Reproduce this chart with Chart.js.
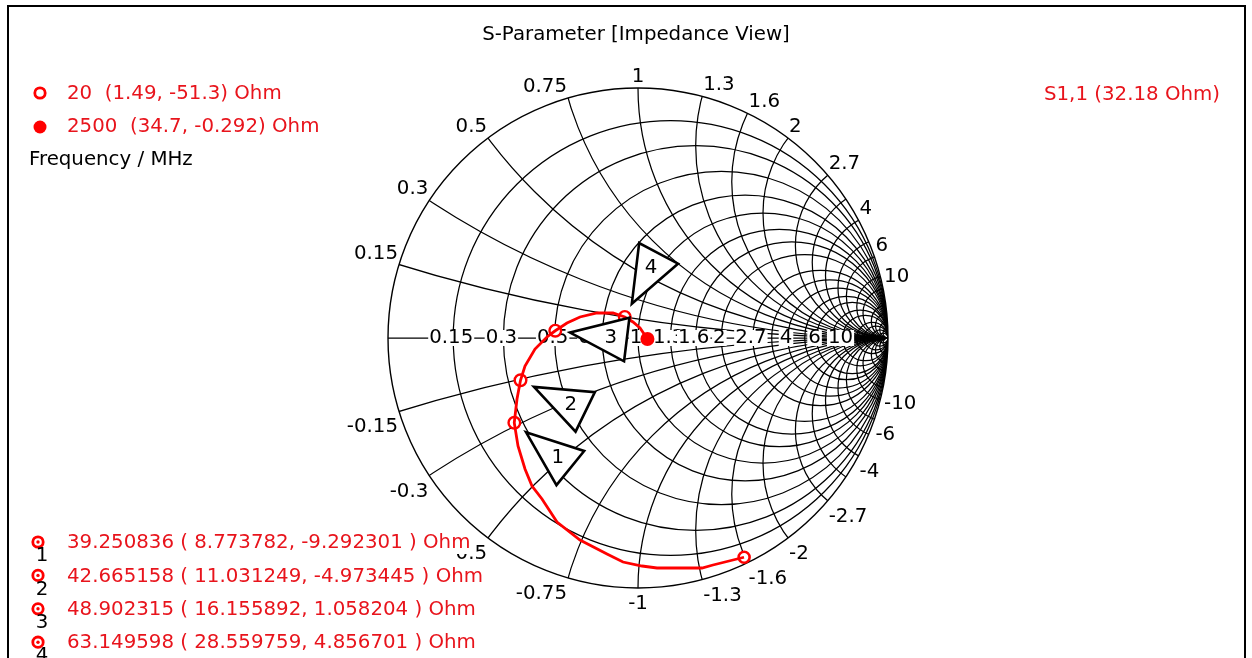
<!DOCTYPE html>
<html>
<head>
<meta charset="utf-8">
<script src="https://cdn.jsdelivr.net/npm/chart.js@4/dist/chart.umd.min.js"></script>
<style>
  html, body { margin: 0; padding: 0; background: #fff; }
  canvas { display: block; }
</style>
</head>
<body>
<canvas id="smith" width="1252" height="658"></canvas>
<script>
// reference impedance of the port (Ohm)
const REF_IMPEDANCE = 32.18;

const S11_RE = [0.424, 0.300, 0.256, 0.076, 0.016, -0.060, -0.124, -0.232, -0.324, -0.384,
  -0.424, -0.452, -0.480, -0.495, -0.484, -0.470, -0.452, -0.412, -0.360, -0.331,
  -0.284, -0.232, -0.164, -0.100, -0.053, -0.020, 0.008, 0.038];
const S11_IM = [-0.877, -0.908, -0.920, -0.920, -0.912, -0.896, -0.864, -0.808, -0.736, -0.644,
  -0.592, -0.524, -0.432, -0.339, -0.244, -0.169, -0.112, -0.044, 0.008, 0.029,
  0.060, 0.084, 0.100, 0.100, 0.084, 0.064, 0.040, -0.004];

// start / end of the sweep
const END_FREQ = [20, 2500];
const END_R = [1.49, 34.7];
const END_X = [-51.3, -0.292];
const END_TEXT = ["1.49", "34.7"];
const END_XTEXT = ["-51.3", "-0.292"];

// numbered markers
const MARKER_FREQ = [39.250836, 42.665158, 48.902315, 63.149598];
const MARKER_R = [8.773782, 11.031249, 16.155892, 28.559759];
const MARKER_X = [-9.292301, -4.973445, 1.058204, 4.856701];

// grid values (labelled ones and extra unlabelled lines)
const GRID_LABELS = [0.15, 0.3, 0.5, 0.75, 1, 1.3, 1.6, 2, 2.7, 4, 6, 10];
const GRID_EXTRA = [3.3, 5, 8, 15, 20, 30, 50];

const FONT = '19.8px "DejaVu Sans"';
const RED = "#ff0000";
const TEXT_RED = "#e8141c";
// direction of the triangle flags for markers 1..4 (deg, screen)
const FLAG_ANGLE = [39, 26, 7, -62];

/**
 * impedance in Ohm -> reflection coefficient {x, y}
 */
function toGamma(r, x) {
  const zr = r / REF_IMPEDANCE, zi = x / REF_IMPEDANCE;
  const nr = zr - 1, ni = zi;
  const dr = zr + 1, di = zi;
  const d = dr * dr + di * di;
  return { x: (nr * dr + ni * di) / d, y: (ni * dr - nr * di) / d };
}

function fmt(v) { return v.toFixed(6); }

const tracePoints = S11_RE.map((re, i) => ({ x: re, y: S11_IM[i] }));
const startPoint = [toGamma(END_R[0], END_X[0])];
const endPoint = [toGamma(END_R[1], END_X[1])];
const markerPoints = MARKER_R.map((r, i) => toGamma(r, MARKER_X[i]));

// Smith grid, drawn below the data
const smithGrid = {
  id: "smithGrid",
  beforeDatasetsDraw(chart) {
    const { ctx, scales: { x, y } } = chart;
    const cx = x.getPixelForValue(0), cy = y.getPixelForValue(0);
    const unit = x.getPixelForValue(1) - cx;
    const all = GRID_LABELS.concat(GRID_EXTRA);

    ctx.save();
    ctx.beginPath();
    ctx.arc(cx, cy, unit, 0, Math.PI * 2);
    ctx.clip();
    ctx.strokeStyle = "#000";
    ctx.lineWidth = 1.25;
    for (const r of all) {
      ctx.beginPath();
      ctx.arc(x.getPixelForValue(r / (r + 1)), cy, unit / (r + 1), 0, Math.PI * 2);
      ctx.stroke();
    }
    for (const xv of all) {
      for (const s of [1, -1]) {
        ctx.beginPath();
        ctx.arc(x.getPixelForValue(1), y.getPixelForValue(s / xv), unit / xv, 0, Math.PI * 2);
        ctx.stroke();
      }
    }
    ctx.beginPath();
    ctx.moveTo(cx - unit, cy);
    ctx.lineTo(cx + unit, cy);
    ctx.stroke();
    ctx.restore();

    ctx.save();
    ctx.strokeStyle = "#000";
    ctx.lineWidth = 1.4;
    ctx.beginPath();
    ctx.arc(cx, cy, unit, 0, Math.PI * 2);
    ctx.stroke();

    ctx.font = FONT;
    ctx.fillStyle = "#000";
    // reactance labels round the rim
    for (const xv of GRID_LABELS) {
      for (const s of [1, -1]) {
        const k = s * xv;
        const gr = (k * k - 1) / (k * k + 1), gi = (2 * k) / (k * k + 1);
        const px = x.getPixelForValue(gr), py = y.getPixelForValue(gi);
        ctx.textAlign = gr < -0.05 ? "right" : gr > 0.05 ? "left" : "center";
        ctx.textBaseline = "alphabetic";
        const tx = gr < -0.05 ? px - 1 : gr > 0.05 ? px + 1 : px;
        ctx.fillText(String(k), tx, s > 0 ? py - 6 : py + 21);
      }
    }
    // resistance labels on the real axis
    ctx.textAlign = "center";
    ctx.textBaseline = "middle";
    for (const r of GRID_LABELS) {
      const px = x.getPixelForValue((r - 1) / (r + 1)) - 2;
      const w = ctx.measureText(String(r)).width;
      ctx.fillStyle = "#fff";
      ctx.fillRect(px - w / 2 - 1, cy - 8, w + 2, 16);
      ctx.fillStyle = "#000";
      ctx.fillText(String(r), px, cy);
    }
    ctx.restore();
  }
};

// numbered triangle flags next to the markers
const markerFlags = {
  id: "markerFlags",
  afterDatasetsDraw(chart) {
    const { ctx, scales: { x, y } } = chart;
    ctx.save();
    ctx.lineWidth = 2.6;
    ctx.strokeStyle = "#000";
    ctx.lineJoin = "miter";
    ctx.font = FONT;
    ctx.textAlign = "center";
    ctx.textBaseline = "middle";
    markerPoints.forEach((p, i) => {
      const a = FLAG_ANGLE[i] * Math.PI / 180;
      const dx = Math.cos(a), dy = Math.sin(a);
      const mx = x.getPixelForValue(p.x), my = y.getPixelForValue(p.y);
      const tx = mx + dx * 15, ty = my + dy * 15;
      const bx = tx + dx * 57, by = ty + dy * 57;
      ctx.beginPath();
      ctx.moveTo(tx, ty);
      ctx.lineTo(bx - dy * 22, by + dx * 22);
      ctx.lineTo(bx + dy * 22, by - dx * 22);
      ctx.closePath();
      ctx.fillStyle = "#fff";
      ctx.fill();
      ctx.stroke();
      ctx.fillStyle = "#000";
      ctx.fillText(String(i + 1), tx + dx * 41, ty + dy * 41);
    });
    ctx.restore();
  }
};

function ring(ctx, cx, cy, dot) {
  ctx.beginPath();
  ctx.arc(cx, cy, 5.2, 0, Math.PI * 2);
  ctx.fillStyle = "#fff";
  ctx.fill();
  ctx.lineWidth = 2.8;
  ctx.strokeStyle = RED;
  ctx.stroke();
  if (dot) {
    ctx.beginPath();
    ctx.arc(cx, cy, 1.7, 0, Math.PI * 2);
    ctx.fillStyle = RED;
    ctx.fill();
  }
}

// titles, legends, frame
const pageText = {
  id: "pageText",
  afterDraw(chart) {
    const { ctx } = chart;
    ctx.save();
    ctx.strokeStyle = "#000";
    ctx.lineWidth = 2;
    ctx.strokeRect(8, 6, 1237, 700);

    ctx.font = FONT;
    ctx.textBaseline = "middle";
    ctx.fillStyle = "#000";
    ctx.textAlign = "center";
    ctx.fillText("S-Parameter [Impedance View]", 636, 35);

    ctx.textAlign = "left";
    ring(ctx, 40, 93, false);
    ctx.beginPath();
    ctx.arc(40, 127, 6.5, 0, Math.PI * 2);
    ctx.fillStyle = RED;
    ctx.fill();
    ctx.fillStyle = TEXT_RED;
    for (let i = 0; i < 2; i++) {
      ctx.fillText(`${END_FREQ[i]}  (${END_TEXT[i]}, ${END_XTEXT[i]}) Ohm`, 67, 94 + i * 33);
    }
    ctx.fillStyle = "#000";
    ctx.fillText("Frequency / MHz", 29, 160);

    ctx.textAlign = "right";
    ctx.fillStyle = TEXT_RED;
    ctx.fillText(`S1,1 (${REF_IMPEDANCE} Ohm)`, 1220, 95);

    ctx.textAlign = "left";
    MARKER_FREQ.forEach((f, i) => {
      const yy = 543 + i * 33.4;
      const t = `${fmt(f)} ( ${fmt(MARKER_R[i])}, ${fmt(MARKER_X[i])} ) Ohm`;
      const w = ctx.measureText(t).width;
      ctx.fillStyle = "#fff";
      ctx.fillRect(66, yy - 10, w + 2, 21);
      ctx.fillStyle = TEXT_RED;
      ctx.fillText(t, 67, yy);
    });
    MARKER_FREQ.forEach((f, i) => {
      const yy = 542 + i * 33.4;
      ring(ctx, 38, yy, true);
      ctx.fillStyle = "#000";
      ctx.textAlign = "center";
      ctx.fillText(String(i + 1), 42, yy + 14);
    });
    ctx.restore();
  }
};

new Chart(document.getElementById("smith"), {
  type: "scatter",
  data: {
    datasets: [
      {
        data: tracePoints,
        showLine: true,
        borderColor: RED,
        borderWidth: 2.8,
        pointRadius: 0,
        tension: 0,
        clip: false
      },
      {
        data: startPoint,
        pointRadius: 5.5,
        pointBorderWidth: 2.6,
        pointBorderColor: RED,
        pointBackgroundColor: "#fff",
        clip: false
      },
      {
        data: endPoint,
        pointRadius: 7,
        pointBorderWidth: 0,
        pointBackgroundColor: RED,
        clip: false
      },
      {
        data: markerPoints,
        pointRadius: 5.8,
        pointBorderWidth: 2.4,
        pointBorderColor: RED,
        pointBackgroundColor: "#fff",
        clip: false
      },
      {
        data: markerPoints,
        pointRadius: 1.7,
        pointBorderWidth: 0,
        pointBackgroundColor: RED,
        clip: false
      }
    ]
  },
  options: {
    responsive: false,
    animation: false,
    layout: { padding: { left: 388, right: 364, top: 88, bottom: 70 } },
    plugins: {
      legend: { display: false },
      title: { display: false },
      tooltip: { enabled: false }
    },
    scales: {
      x: { type: "linear", min: -1, max: 1, display: false },
      y: { type: "linear", min: -1, max: 1, display: false }
    }
  },
  plugins: [smithGrid, markerFlags, pageText]
});
</script>
</body>
</html>
